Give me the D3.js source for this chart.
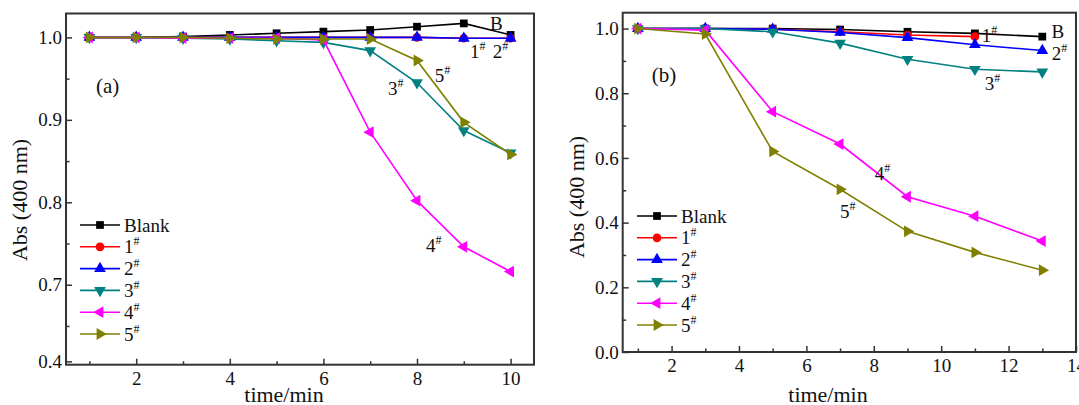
<!DOCTYPE html>
<html>
<head>
<meta charset="utf-8">
<script src="https://cdn.jsdelivr.net/npm/d3@7"></script>
<style>
  body { margin: 0; background: #fff; }
  svg text { font-family: 'Liberation Serif', 'Times New Roman', serif !important; fill: #111; }
</style>
</head>
<body>
<svg id="chart" width="1079" height="405"></svg>
<script>
// ---- data ----
const seriesNames = ['Blank', '1', '2', '3', '4', '5'];
const seriesColors = ['#000000', '#ff0000', '#0000ff', '#008080', '#ff00ff', '#808000'];

const timeA = [1, 2, 3, 4, 5, 6, 7, 8, 9, 10];
const blankA = [1.0, 1.0, 1.001, 1.003, 1.005, 1.007, 1.009, 1.013, 1.017, 1.003];
const s1A = [1.0, 1.0, 1.0, 1.0, 1.0, 1.0, 1.0, 1.0, 0.999, 0.999];
const s2A = [1.0, 1.0, 1.0, 1.0, 1.0, 1.0, 1.0, 1.0, 0.999, 0.999];
const s3A = [1.0, 1.0, 0.999, 0.998, 0.996, 0.994, 0.984, 0.945, 0.887, 0.86];
const s4A = [1.0, 1.0, 0.999, 0.999, 0.999, 0.997, 0.885, 0.802, 0.746, 0.716];
const s5A = [1.0, 1.0, 1.0, 0.999, 0.998, 0.998, 0.998, 0.972, 0.897, 0.858];

const timeB = [1, 3, 5, 7, 9, 11, 13];
const blankB = [1.0, 1.0, 1.0, 0.997, 0.99, 0.985, 0.975];
const s1B = [1.0, 1.0, 0.998, 0.99, 0.98, 0.975];
const s2B = [1.0, 1.0, 0.998, 0.988, 0.972, 0.95, 0.932];
const s3B = [1.0, 1.0, 0.99, 0.955, 0.905, 0.874, 0.866];
const s4B = [1.0, 0.995, 0.743, 0.643, 0.48, 0.42, 0.343];
const s5B = [1.0, 0.983, 0.62, 0.503, 0.373, 0.308, 0.253];

// axis a has a break: the bottom tick is labelled 0.4
const yTicksA = [0.607, 0.7, 0.8, 0.9, 1.0];
const yTickLabelsA = ['0.4', '0.7', '0.8', '0.9', '1.0'];
const yMinorA = [0.65, 0.75, 0.85, 0.95];
const xTicksA = [2, 4, 6, 8, 10];
const xMinorA = [1, 3, 5, 7, 9];

const yTicksB = [0, 0.2, 0.4, 0.6, 0.8, 1.0];
const yMinorB = [0.1, 0.3, 0.5, 0.7, 0.9];
const xTicksB = [2, 4, 6, 8, 10, 12, 14];
const xMinorB = [1, 3, 5, 7, 9, 11, 13];

// annotations [text, superscript, x, y] in data units
const notesA = [['(a)', '', 1.14, 0.932], ['B', '', 9.56, 1.009], ['1', '#', 9.13, 0.975],
  ['2', '#', 9.62, 0.975], ['5', '#', 8.38, 0.946], ['3', '#', 7.38, 0.930], ['4', '#', 8.19, 0.740]];
const notesB = [['(b)', '', 1.41, 0.836], ['1', '#', 11.2, 0.959], ['B', '', 13.27, 0.970],
  ['2', '#', 13.28, 0.903], ['3', '#', 11.29, 0.81], ['4', '#', 8.03, 0.532], ['5', '#', 7.0, 0.414]];

const FONT = "'Liberation Serif', 'Times New Roman', serif";
const svg = d3.select('#chart');

const symbolFor = [
  { type: d3.symbolSquare, rot: 0, size: 60 },
  { type: d3.symbolCircle, rot: 0, size: 60 },
  { type: d3.symbolTriangle, rot: 0, size: 60 },
  { type: d3.symbolTriangle, rot: 180, size: 60 },
  { type: d3.symbolTriangle, rot: -90, size: 60 },
  { type: d3.symbolTriangle, rot: 90, size: 60 }
];

function drawPanel(cfg) {
  const x = d3.scaleLinear().domain(cfg.xDomain).range([cfg.left, cfg.right]);
  const y = d3.scaleLinear().domain(cfg.yDomain).range([cfg.bottom, cfg.top]);
  const g = svg.append('g').attr('font-family', FONT);

  // frame
  g.append('rect')
    .attr('x', cfg.left).attr('y', cfg.top)
    .attr('width', cfg.right - cfg.left).attr('height', cfg.bottom - cfg.top)
    .attr('fill', 'none').attr('stroke', '#333').attr('stroke-width', 2);

  // x axis (ticks inward)
  const xa = g.append('g').attr('transform', `translate(0,${cfg.bottom})`)
    .call(d3.axisBottom(x).tickValues(cfg.xTicks).tickSize(-6).tickPadding(7));
  xa.attr('font-family', FONT);
  xa.select('.domain').remove();
  xa.selectAll('.tick line').attr('stroke', '#333').attr('stroke-width', 1.5);
  xa.selectAll('.tick text').attr('font-size', 19).attr('fill', '#111');
  g.append('g').attr('transform', `translate(0,${cfg.bottom})`)
    .call(d3.axisBottom(x).tickValues(cfg.xMinor).tickSize(-3.5).tickFormat(''))
    .call(s => s.select('.domain').remove())
    .selectAll('.tick line').attr('stroke', '#333').attr('stroke-width', 1.5);

  // y axis
  const ya = g.append('g').attr('transform', `translate(${cfg.left},0)`)
    .call(d3.axisLeft(y).tickValues(cfg.yTicks).tickSize(-6).tickPadding(4)
      .tickFormat((d, i) => cfg.yLabels[i]));
  ya.attr('font-family', FONT);
  ya.select('.domain').remove();
  ya.selectAll('.tick line').attr('stroke', '#333').attr('stroke-width', 1.5);
  ya.selectAll('.tick text').attr('font-size', 19).attr('fill', '#111');
  g.append('g').attr('transform', `translate(${cfg.left},0)`)
    .call(d3.axisLeft(y).tickValues(cfg.yMinor).tickSize(-3.5).tickFormat(''))
    .call(s => s.select('.domain').remove())
    .selectAll('.tick line').attr('stroke', '#333').attr('stroke-width', 1.5);

  // titles
  g.append('text').attr('x', cfg.titleX).attr('y', 402)
    .attr('text-anchor', 'middle').attr('font-size', 22).text('time/min');
  g.append('text')
    .attr('transform', `translate(${cfg.left - 39},${cfg.titleY}) rotate(-90)`)
    .attr('text-anchor', 'middle').attr('font-size', 22).text('Abs (400 nm)');

  // series
  const line = d3.line().x(d => x(d[0])).y(d => y(d[1]));
  cfg.series.forEach((vals, i) => {
    const pts = vals.map((v, j) => [cfg.time[j], v]);
    g.append('path').datum(pts)
      .attr('fill', 'none').attr('stroke', seriesColors[i]).attr('stroke-width', 1.6)
      .attr('d', line);
    const sym = symbolFor[i];
    g.selectAll(null).data(pts).enter().append('path')
      .attr('d', d3.symbol().type(sym.type).size(sym.size))
      .attr('transform', d => `translate(${x(d[0])},${y(d[1])}) rotate(${sym.rot})`)
      .attr('fill', seriesColors[i]);
  });

  // legend
  seriesNames.forEach((name, i) => {
    const ly = cfg.legY + i * 21.8;
    g.append('line').attr('x1', cfg.legX).attr('x2', cfg.legX + 40)
      .attr('y1', ly).attr('y2', ly)
      .attr('stroke', seriesColors[i]).attr('stroke-width', 1.6);
    const sym = symbolFor[i];
    g.append('path').attr('d', d3.symbol().type(sym.type).size(sym.size))
      .attr('transform', `translate(${cfg.legX + 20},${ly}) rotate(${sym.rot})`)
      .attr('fill', seriesColors[i]);
    const t = g.append('text').attr('x', cfg.legX + 44).attr('y', ly + 6.5).attr('font-size', 19);
    t.append('tspan').text(name);
    if (i > 0) t.append('tspan').attr('font-size', 12).attr('dy', -8).text('#');
  });

  // annotations
  cfg.notes.forEach(n => {
    const t = g.append('text').attr('x', x(n[2])).attr('y', y(n[3]))
      .attr('font-size', n[0].length > 1 ? 21 : 19);
    t.append('tspan').text(n[0]);
    if (n[1]) t.append('tspan').attr('font-size', 12).attr('dy', -8).text(n[1]);
  });
}

drawPanel({
  left: 66, right: 534, top: 13.5, bottom: 364.7,
  xDomain: [0.5, 10.5], yDomain: [0.603, 1.029],
  xTicks: xTicksA, xMinor: xMinorA, yTicks: yTicksA, yLabels: yTickLabelsA, yMinor: yMinorA,
  time: timeA, series: [blankA, s1A, s2A, s3A, s4A, s5A],
  legX: 80, legY: 225, notes: notesA, titleX: 284, titleY: 200
});

drawPanel({
  left: 622.7, right: 1076, top: 12.7, bottom: 352,
  xDomain: [0.55, 14], yDomain: [0, 1.049],
  xTicks: xTicksB, xMinor: xMinorB, yTicks: yTicksB, yLabels: yTicksB.map(d3.format('.1f')), yMinor: yMinorB,
  time: timeB, series: [blankB, s1B, s2B, s3B, s4B, s5B],
  legX: 637, legY: 216, notes: notesB, titleX: 828, titleY: 197
});
</script>
</body>
</html>
